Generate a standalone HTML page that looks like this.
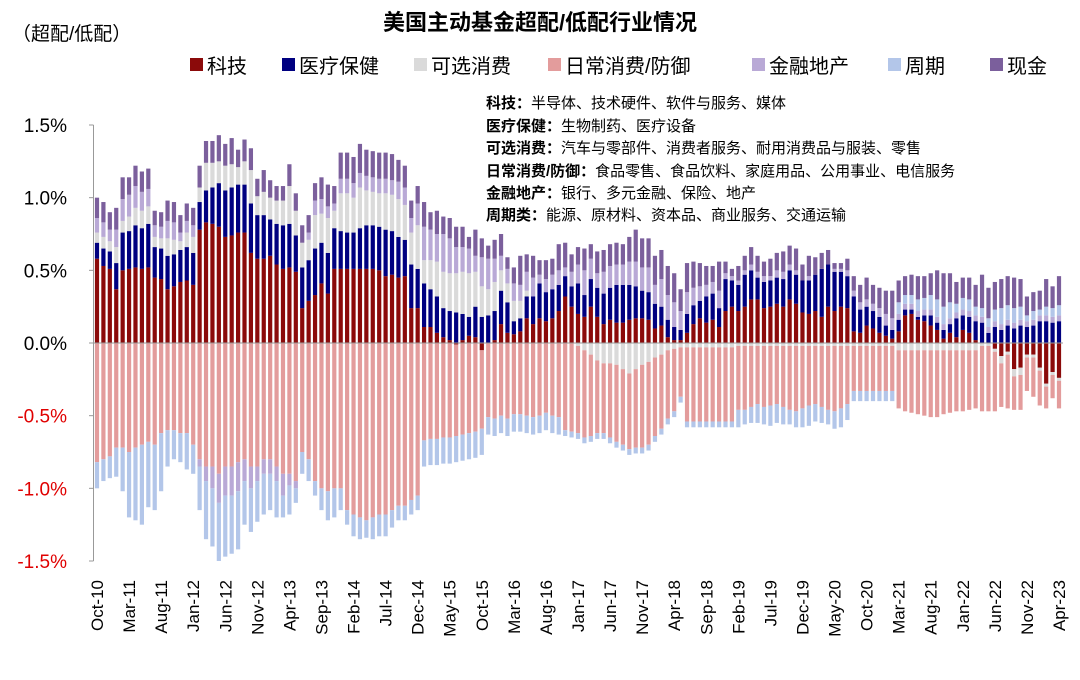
<!DOCTYPE html>
<html><head><meta charset="utf-8">
<style>
html,body{margin:0;padding:0;background:#fff;}
body{width:1080px;height:675px;overflow:hidden;font-family:"Liberation Sans","Noto Sans CJK SC",sans-serif;}
</style></head>
<body>
<svg id="chart" width="1080" height="675" xmlns="http://www.w3.org/2000/svg" font-family="Liberation Sans, Noto Sans CJK SC, sans-serif">
<text x="540" y="30" text-anchor="middle" font-size="22" font-weight="bold" fill="#000">美国主动基金超配/低配行业情况</text>
<text x="12" y="40" font-size="19" fill="#000">（超配/低配）</text>
<g id="legend"></g>
<g font-size="15" fill="#000">
<text x="486" y="108"><tspan font-weight="bold">科技：</tspan>半导体、技术硬件、软件与服务、媒体</text>
<text x="486" y="131"><tspan font-weight="bold">医疗保健：</tspan>生物制药、医疗设备</text>
<text x="486" y="153"><tspan font-weight="bold">可选消费：</tspan>汽车与零部件、消费者服务、耐用消费品与服装、零售</text>
<text x="486" y="176"><tspan font-weight="bold">日常消费/防御：</tspan>食品零售、食品饮料、家庭用品、公用事业、电信服务</text>
<text x="486" y="198"><tspan font-weight="bold">金融地产：</tspan>银行、多元金融、保险、地产</text>
<text x="486" y="220"><tspan font-weight="bold">周期类：</tspan>能源、原材料、资本品、商业服务、交通运输</text>
</g>
<g id="bars"></g>
<g id="axes"></g>
</svg>
<script>
const seriesNames=["科技","医疗保健","可选消费","日常消费/防御","金融地产","周期","现金"];
const seriesColors=["#8b0a0a","#000080","#dadada","#e39c9c","#b9a9d6","#b3c6e9","#7b5f9c"];
const tech=[.58,.53,.51,.37,.50,.51,.52,.51,.52,.45,.44,.37,.39,.42,.43,.40,
.78,.83,.82,.80,.73,.74,.76,.76,.62,.58,.58,.60,.54,.51,.52,.49,
.24,.29,.33,.41,.34,.51,.51,.51,.51,.51,.51,.51,.50,.46,.47,.45,.46,.24,.24,
.11,.11,.07,.04,.02,-.01,.02,.05,.04,-.05,0,.02,.13,.07,.06,.08,
.17,.13,.17,.15,.17,.22,.32,.25,.20,.18,.25,.18,.13,.16,.14,.14,.16,.17,.17,.16,.10,.12,.04,.02,.02,.07,.13,.17,.14,.16,.11,.22,
.25,.22,.25,.30,.30,.24,.25,.27,.25,.30,.27,.21,.20,.22,.18,.25,.22,.25,.24,
.08,.07,.12,.10,.07,.05,.03,.08,.19,.20,.16,.15,.12,.09,.03,.07,.04,.09,.07,.02,0,0,-.04,-.09,-.06,-.18,-.17,-.08,-.08,-.17,-.28,-.20,-.24];
const health=[.11,.12,.12,.18,.26,.26,.29,.28,.30,.21,.21,.23,.22,.22,.23,.22,
.19,.22,.25,.30,.32,.33,.33,.33,.34,.30,.30,.25,.28,.30,.30,.25,
.28,.28,.32,.28,.28,.28,.26,.25,.25,.28,.30,.30,.30,.32,.30,.28,.25,.30,.27,
.30,.26,.25,.20,.20,.21,.18,.13,.21,.18,.19,.20,.23,.21,.09,.09,
.15,.19,.24,.20,.20,.18,.14,.14,.21,.15,.19,.20,.21,.22,.26,.26,.24,.22,.19,.19,.17,.13,.12,.09,.07,.13,.13,.12,.18,.18,.13,.22,
.18,.18,.22,.20,.15,.18,.18,.18,.19,.20,.20,.22,.23,.25,.33,.29,.27,.24,.22,
.24,.16,.13,.12,.11,.07,.06,.08,.04,.03,.02,.04,.07,.05,.06,.06,.13,.10,.11,.13,.14,.07,.11,.09,.12,.10,.12,.11,.12,.15,.15,.14,.15];
const discretionary=[.07,.08,.07,.11,.08,.10,.12,.12,.12,.07,.07,.12,.10,.06,.10,.11,
.10,.19,.17,.15,.17,.16,.12,.16,.23,.13,.16,.15,.16,.17,.26,.17,
.17,.14,.23,.20,.24,.12,.26,.27,.24,.28,.24,.23,.23,.25,.25,.26,.24,.22,.30,
.16,.20,.24,.25,.26,.27,.29,.30,.24,.21,.18,.20,.14,.13,.14,.12,
.04,0,0,0,0,0,0,0,
-.02,-.05,-.08,-.12,-.14,-.14,-.15,-.18,-.21,-.18,-.15,-.13,-.10,-.08,-.05,-.04,
-.03,-.03,-.03,-.03,-.03,-.03,-.03,-.03,-.03,
-.02,-.02,-.02,-.02,-.02,-.02,-.02,-.02,-.02,-.02,-.02,-.02,-.02,-.02,-.02,-.02,-.02,-.02,-.02,-.02,-.02,-.02,-.02,-.02,-.02,
-.05,-.05,-.05,-.05,-.05,-.05,-.05,-.05,-.05,-.05,-.05,-.05,-.05,
-.02,-.02,-.02,-.05,-.02,-.05,-.05,-.02,-.02,-.02,-.02,-.02,-.02];
const staples=[-.82,-.80,-.78,-.72,-.72,-.75,-.72,-.70,-.68,-.70,-.62,-.60,-.60,-.62,-.62,
-.70,-.80,-.85,-.85,-.90,-.85,-.85,-.82,-.80,-.85,-.85,-.80,
-.80,-.85,-.90,-.90,-.95,-.75,-.80,-.95,-1.0,-1.02,-1.0,-1.0,
-1.15,-1.18,-1.2,-1.22,-1.2,-1.18,-1.18,-1.15,-1.12,-1.12,-1.08,-1.05,
-.67,-.66,-.66,-.65,-.65,-.63,-.63,-.62,-.61,-.54,-.51,-.52,-.50,-.52,-.49,-.49,
-.50,-.51,-.50,-.48,-.50,-.51,-.60,-.61,
-.60,-.60,-.56,-.50,-.48,-.51,-.53,-.52,-.52,-.54,-.57,-.57,-.54,-.51,-.47,-.43,-.34,-.51,-.51,-.51,-.51,-.51,-.51,-.51,-.51,
-.44,-.44,-.42,-.40,-.42,-.41,-.40,-.42,-.44,-.45,-.43,-.41,-.40,-.42,-.44,-.45,-.43,-.40,
-.31,-.31,-.31,-.31,-.31,-.31,-.31,
-.40,-.42,-.43,-.44,-.45,-.46,-.46,-.44,-.43,-.42,-.42,-.41,-.40,
-.45,-.45,-.41,-.30,-.37,-.23,-.24,-.23,-.27,-.24,-.15,-.16,-.19];
const financial=[.10,.10,.08,.12,.15,.15,.15,.13,.12,.08,.08,.12,.12,.06,.08,.08,
-.05,-.10,-.15,-.20,-.20,-.20,-.20,-.15,-.15,-.10,-.10,-.10,-.10,-.15,-.08,-.05,
0,.05,.10,.10,.08,.05,.10,.10,.10,.10,.10,.10,.10,.10,.10,.12,.12,.10,.15,
.23,.21,.19,.26,.24,.18,.17,.17,.11,.20,.21,.16,.10,.10,.12,.11,
.13,.13,.06,.09,.10,.10,.06,.10,.13,.17,.14,.10,.15,.15,.14,.14,.16,.17,.16,.17,.13,.19,.17,.17,.13,.15,.12,.10,.08,.08,.12,.04,
.03,.03,.03,.04,.04,.04,.03,.05,.05,.04,.03,0,.03,0,0,0,.02,.02,.04,
.04,.05,.05,.05,.06,.08,.08,
.04,.04,.04,.04,.04,.04,.04,.04,.04,.04,.04,.04,.04,.04,.04,.04,.04,.04,.04,.04,.04,.04,.04,.04,.04,.04];
const cyclical=[-.18,-.15,-.15,-.20,-.30,-.45,-.50,-.55,-.45,-.45,-.40,-.25,-.20,-.20,-.25,
-.20,-.30,-.40,-.40,-.40,-.42,-.40,-.40,-.30,-.30,-.28,-.28,
-.25,-.25,-.15,-.20,-.10,-.15,-.15,-.10,-.15,-.20,-.20,-.15,
-.10,-.15,-.15,-.12,-.15,-.15,-.15,-.12,-.10,-.10,-.10,-.10,
-.18,-.18,-.18,-.18,-.18,-.18,-.18,-.18,-.18,-.18,
-.12,-.12,-.12,-.12,-.12,-.12,-.12,-.12,-.12,-.12,-.12,-.12,
-.04,-.04,-.04,-.04,-.04,-.04,-.04,-.04,-.04,-.04,-.04,-.04,-.04,-.04,-.04,-.04,-.04,-.04,-.04,-.04,-.04,-.04,-.04,-.04,-.04,-.04,-.04,
-.12,-.10,-.11,-.13,-.12,-.14,-.13,-.12,-.10,-.11,-.13,-.14,-.12,-.11,-.10,-.12,-.13,-.11,
-.07,-.07,-.07,-.07,-.07,-.07,-.07,
.08,.06,.06,.08,.08,.10,.12,.12,.11,.06,.08,.08,.06,.06,.06,.08,.11,.10,.10,.09,.04,.06,.04,.06,.06,.07];
const cash=[.14,.14,.12,.15,.15,.12,.14,.14,.14,.10,.10,.14,.14,.12,.12,.12,
.15,.15,.15,.18,.15,.18,.12,.15,.15,.12,.15,.12,.10,.10,.15,.12,
.12,.12,.12,.15,.15,.12,.18,.18,.18,.20,.18,.18,.18,.18,.18,.15,.15,.12,.12,
.17,.12,.16,.12,.14,.14,.14,.08,.18,.13,.09,.13,.15,.08,.11,.20,
.12,.15,.10,.13,.11,.18,.17,.12,.12,.15,.10,.15,.15,.15,.15,.14,.17,.22,.20,.20,.20,.20,.20,.20,.15,.20,.18,.16,.13,.11,.20,.08,
.05,.10,.10,.12,.11,.10,.12,.12,.14,.13,.15,.11,.14,.12,.11,.10,.04,.04,.08,
.10,.12,.15,.13,.14,.16,.19,.15,.13,.14,.16,.15,.15,.20,.23,.20,.15,.14,.15,.15,.23,.21,.19,.20,.20,.21,.19,.13,.13,.13,.19,.15,.20];
const yTicks=[1.5,1.0,0.5,0.0,-0.5,-1.0,-1.5];
const xTickLabels=["Oct-10","Mar-11","Aug-11","Jan-12","Jun-12","Nov-12","Apr-13","Sep-13","Feb-14","Jul-14","Dec-14","May-15","Oct-15","Mar-16","Aug-16","Jan-17","Jun-17","Nov-17","Apr-18","Sep-18","Feb-19","Jul-19","Dec-19","May-20","Oct-20","Mar-21","Aug-21","Jan-22","Jun-22","Nov-22","Apr-23"];
const tickEvery=5;

const NS="http://www.w3.org/2000/svg";
const series=[tech,health,discretionary,staples,financial,cyclical,cash];
const n=tech.length;
const X0=97,X1=1059,Y0=343,PX=436/3;
function yS(v){return Y0-v*PX;}
function xS(i){return X0+i*(X1-X0)/(n-1);}
const bw=4.2;
const bars=document.getElementById('bars');
for(let i=0;i<n;i++){
  let pos=0,neg=0;
  for(let s=0;s<series.length;s++){
    const v=series[s][i];
    if(!v) continue;
    let a,b;
    if(v>0){a=pos;b=pos+v;pos=b;}else{a=neg;b=neg+v;neg=b;}
    const r=document.createElementNS(NS,'rect');
    
    
    r.setAttribute('x',xS(i)-bw/2);
    r.setAttribute('width',bw);
    r.setAttribute('y',Math.min(yS(a),yS(b)));
    r.setAttribute('height',Math.abs(yS(a)-yS(b)));
    r.setAttribute('fill',seriesColors[s]);
    bars.appendChild(r);
  }
}
const axes=document.getElementById('axes');
function mk(tag,attrs,txt){const e=document.createElementNS(NS,tag);for(const k in attrs)e.setAttribute(k,attrs[k]);if(txt!==undefined)e.textContent=txt;return e;}
const yl=mk('line',{x1:93.5,x2:93.5,y1:yS(1.5),y2:yS(-1.5),stroke:'#999','stroke-width':1});


axes.appendChild(yl);
const zl=mk('line',{x1:93.5,x2:1063,y1:Y0,y2:Y0,stroke:'#999','stroke-width':1});


axes.appendChild(zl);
yTicks.forEach(t=>{
  const tk=mk('line',{x1:89,x2:93.5,y1:yS(t),y2:yS(t),stroke:'#999'});
  
  
  axes.appendChild(tk);
  const tx=mk('text',{x:67,y:yS(t)+7,'text-anchor':'end','font-size':19,fill:t<0?'#e00000':'#000'},t.toFixed(1)+'%');
  
  
  axes.appendChild(tx);
});
xTickLabels.forEach((lab,k)=>{
  const x=xS(k*tickEvery);
  const tx=mk('text',{x:0,y:0,'text-anchor':'end','font-size':17,fill:'#000',transform:`translate(${x+6},580) rotate(-90)`},lab);
  
  
  axes.appendChild(tx);
});
const lg=document.getElementById('legend');
const legX=[190,282,414,548,752,888,990];
seriesNames.forEach((nm,s)=>{
  const g=mk('g',{});
  
  
  g.appendChild(mk('rect',{x:legX[s],y:58,width:13,height:13,fill:seriesColors[s]}));
  g.appendChild(mk('text',{x:legX[s]+17,y:73,'font-size':20,fill:'#000'},nm));
  lg.appendChild(g);
});
</script>
</body></html>
